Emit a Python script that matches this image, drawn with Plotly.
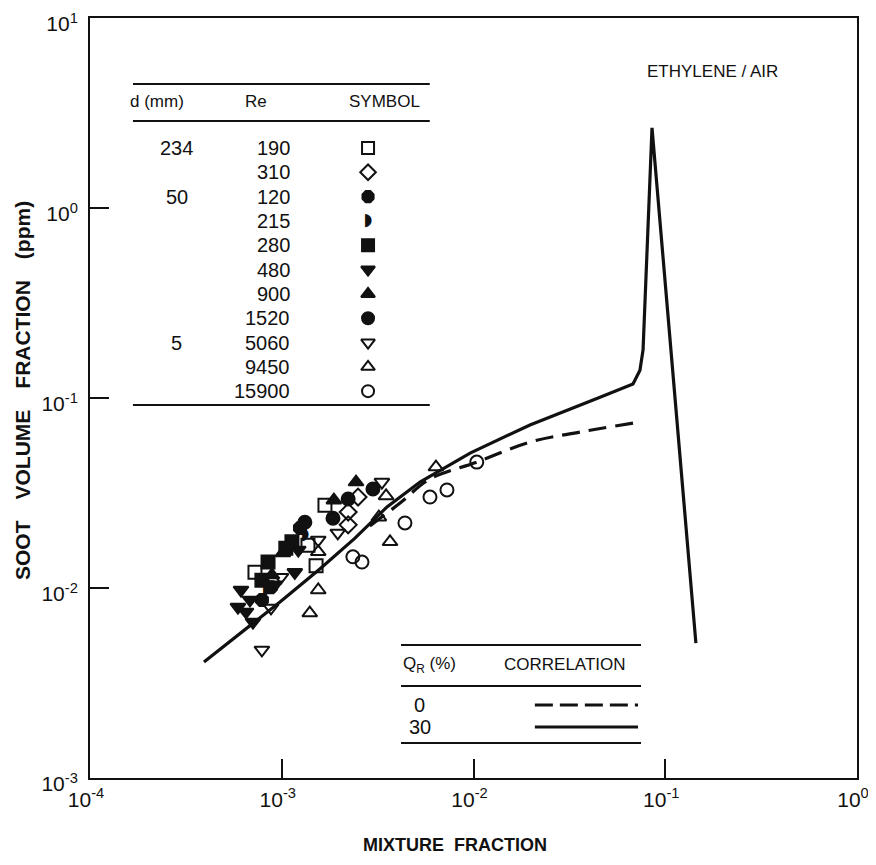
import plotly.graph_objects as go

# ---------------- data ----------------
# correlation curves
solid_x = [3.93e-4, 6.06e-4, 9.79e-4, 1.58e-3, 2.41e-3, 3.54e-3, 5.26e-3, 9.6e-3,
           1.97e-2, 4.57e-2, 6.79e-2, 7.38e-2, 7.66e-2, 8.53e-2, 1.445e-1]
solid_y = [4.08e-3, 5.79e-3, 8.44e-3, 1.26e-2, 1.83e-2, 2.67e-2, 3.61e-2, 5.13e-2,
           7.21e-2, 0.101, 0.1185, 0.140, 0.179, 2.64, 5.13e-3]
dashed_x = [2.88e-3, 4.14e-3, 5.93e-3, 1.04e-2, 1.97e-2, 3.59e-2, 6.79e-2]
dashed_y = [2.12e-2, 2.80e-2, 3.75e-2, 4.6e-2, 5.86e-2, 6.62e-2, 7.38e-2]

# measurements, one pair of lists per Reynolds number
re190_x = [7.25e-4, 1.51e-3, 1.68e-3, 1.37e-3]
re190_y = [1.21e-2, 1.31e-2, 2.73e-2, 1.68e-2]
re310_x = [2.22e-3, 2.22e-3, 2.50e-3]
re310_y = [2.51e-2, 2.15e-2, 3.01e-2]
re120_x = [7.88e-4, 8.79e-4, 1.245e-3]
re120_y = [8.65e-3, 1.01e-2, 2.07e-2]
re215_x = [8.28e-4, 1.32e-3]
re215_y = [9.76e-3, 1.90e-2]
re280_x = [8.48e-4, 1.13e-3, 1.05e-3, 7.88e-4]
re280_y = [1.37e-2, 1.75e-2, 1.62e-2, 1.10e-2]
re480_x = [5.91e-4, 6.13e-4, 6.51e-4, 7.08e-4, 1.17e-3, 1.22e-3, 9.22e-4, 6.83e-4]
re480_y = [7.94e-3, 9.76e-3, 7.48e-3, 6.62e-3, 1.21e-2, 1.585e-2, 1.04e-2, 8.65e-3]
re900_x = [1.015e-3, 1.87e-3, 2.44e-3, 8.89e-4]
re900_y = [1.53e-2, 2.90e-2, 3.61e-2, 1.17e-2]
re1520_x = [1.32e-3, 1.85e-3, 2.22e-3, 2.99e-3]
re1520_y = [2.22e-2, 2.33e-2, 2.94e-2, 3.32e-2]
re5060_x = [7.88e-4, 8.79e-4, 9.91e-4, 1.96e-3, 3.33e-3, 1.55e-3]
re5060_y = [4.72e-3, 7.85e-3, 1.14e-2, 1.95e-2, 3.61e-2, 1.79e-2]
re9450_x = [1.55e-3, 1.40e-3, 3.67e-3, 3.21e-3, 3.50e-3, 6.37e-3, 1.55e-3]
re9450_y = [9.76e-3, 7.38e-3, 1.75e-2, 2.36e-2, 3.05e-2, 4.33e-2, 1.55e-2]
re15900_x = [2.35e-3, 2.62e-3, 4.39e-3, 5.93e-3, 7.27e-3, 1.04e-2]
re15900_y = [1.46e-2, 1.37e-2, 2.20e-2, 3.01e-2, 3.28e-2, 4.6e-2]

# table texts
d_labels = ["234", "", "50", "", "", "", "", "", "5", "", ""]
re_labels = ["190", "310", "120", "215", "280", "480", "900", "1520", "5060", "9450", "15900"]
qr_labels = ["0", "30"]

x_tickvals = [1e-4, 1e-3, 1e-2, 1e-1, 1e0]
x_ticktext = ["10<sup>-4</sup>", "10<sup>-3</sup>", "10<sup>-2</sup>", "10<sup>-1</sup>", "10<sup>0</sup>"]
y_tickvals = [1e-3, 1e-2, 1e-1, 1e0, 1e1]
y_ticktext = ["10<sup>-3</sup>", "10<sup>-2</sup>", "10<sup>-1</sup>", "10<sup>0</sup>", "10<sup>1</sup>"]

# ---------------- styles ----------------
FONT = "Liberation Sans"
BLACK = "#111111"
series = [
    (re190_x, re190_y, "square-open"),
    (re310_x, re310_y, "diamond-open"),
    (re120_x, re120_y, "octagon"),
    (re215_x, re215_y, None),           # half-filled circle, drawn as glyph
    (re280_x, re280_y, "square"),
    (re480_x, re480_y, "triangle-down"),
    (re900_x, re900_y, "triangle-up"),
    (re1520_x, re1520_y, "circle"),
    (re5060_x, re5060_y, "triangle-down-open"),
    (re9450_x, re9450_y, "triangle-up-open"),
    (re15900_x, re15900_y, "circle-open"),
]
HALF = "\u25D7"

fig = go.Figure()

# correlation curves
fig.add_trace(go.Scatter(x=solid_x, y=solid_y, mode="lines",
                         line=dict(color=BLACK, width=3.2), showlegend=False))
fig.add_trace(go.Scatter(x=dashed_x, y=dashed_y, mode="lines", line_shape="spline",
                         line=dict(color=BLACK, width=3.2, dash="18px,9px"), showlegend=False))

# data points
for xs, ys, sym in series:
    if sym is None:
        fig.add_trace(go.Scatter(x=xs, y=ys, mode="text", text=[HALF] * len(xs),
                                 textfont=dict(family="DejaVu Sans", size=17, color=BLACK),
                                 showlegend=False))
    else:
        fig.add_trace(go.Scatter(x=xs, y=ys, mode="markers", showlegend=False,
                                 marker=dict(symbol=sym, size=13, color=BLACK,
                                             line=dict(color=BLACK, width=2))))

# ---------------- tables (overlay axes in [0,1]) ----------------
row_top = 0.829
row_step = 0.0320
rows_y = [row_top - i * row_step for i in range(len(re_labels))]
sym_x = 0.3625
for i, (xs, ys, sym) in enumerate(series):
    if sym is None:
        fig.add_trace(go.Scatter(x=[sym_x], y=[rows_y[i]], mode="text", text=[HALF],
                                 textfont=dict(family="DejaVu Sans", size=17, color=BLACK),
                                 xaxis="x2", yaxis="y2", showlegend=False))
    else:
        fig.add_trace(go.Scatter(x=[sym_x], y=[rows_y[i]], mode="markers",
                                 marker=dict(symbol=sym, size=12, color=BLACK,
                                             line=dict(color=BLACK, width=2)),
                                 xaxis="x2", yaxis="y2", showlegend=False))

# correlation legend lines
corr_rows = [0.096, 0.067]
fig.add_trace(go.Scatter(x=[0.580, 0.7145], y=[corr_rows[0]] * 2, mode="lines",
                         line=dict(color=BLACK, width=3, dash="18px,7px"),
                         xaxis="x2", yaxis="y2", showlegend=False))
fig.add_trace(go.Scatter(x=[0.580, 0.7145], y=[corr_rows[1]] * 2, mode="lines",
                         line=dict(color=BLACK, width=3),
                         xaxis="x2", yaxis="y2", showlegend=False))

annotations = []
tf = dict(family=FONT, size=20, color=BLACK)
hf = dict(family=FONT, size=17, color=BLACK)


def ann(x, y, text, font, xanchor="center", **kw):
    annotations.append(dict(x=x, y=y, xref="paper", yref="paper", text=text,
                            showarrow=False, font=font, xanchor=xanchor,
                            yanchor="middle", **kw))


ann(0.0874, 0.8895, "d (mm)", hf)
ann(0.2164, 0.8895, "Re", hf)
ann(0.3846, 0.8895, "SYMBOL", hf)
for i in range(len(re_labels)):
    if d_labels[i]:
        ann(0.1134, rows_y[i], d_labels[i], tf)
    ann(0.2640, rows_y[i], re_labels[i], tf, xanchor="right")

ann(0.443, 0.1487, "Q<sub>R</sub> (%)", hf)
ann(0.619, 0.1487, "CORRELATION", hf)
for i, lab in enumerate(qr_labels):
    ann(0.430, corr_rows[i], lab, tf)

ann(0.811, 0.929, "ETHYLENE / AIR", hf)

# axis titles
ann(0.476, -0.088, "<b>MIXTURE  FRACTION</b>", dict(family=FONT, size=18, color=BLACK))
ann(-0.0887, 0.5105, "<b>SOOT\u2003VOLUME\u2003FRACTION\u2003(ppm)</b>",
    dict(family=FONT, size=21, color=BLACK), textangle=-90)

shapes = []
for (x0, x1, y) in [(0.056, 0.443, 0.913), (0.056, 0.443, 0.8645), (0.056, 0.443, 0.4908),
                    (0.4055, 0.7184, 0.175), (0.4055, 0.7184, 0.121), (0.4055, 0.7184, 0.046)]:
    shapes.append(dict(type="line", xref="paper", yref="paper", x0=x0, x1=x1, y0=y, y1=y,
                       line=dict(color=BLACK, width=2)))

# page body adds an 8 px offset, so the figure is 8 px smaller and margins shifted
fig.update_layout(
    width=868, height=857,
    margin=dict(l=82, r=19, t=10, b=87),
    paper_bgcolor="white", plot_bgcolor="white",
    showlegend=False,
    annotations=annotations,
    shapes=shapes,
    xaxis=dict(type="log", range=[-4, 0], tickvals=x_tickvals, ticktext=x_ticktext,
               ticks="inside", ticklen=19, tickwidth=2, tickcolor=BLACK,
               showline=True, linecolor=BLACK, linewidth=2, mirror=True,
               showgrid=False, zeroline=False, ticklabelstandoff=2, automargin=False,
               ticklabeloverflow="allow", ticklabelshift=-4,
               tickfont=dict(family=FONT, size=21, color=BLACK)),
    yaxis=dict(type="log", range=[-3, 1], tickvals=y_tickvals, ticktext=y_ticktext,
               ticks="inside", ticklen=19, tickwidth=2, tickcolor=BLACK,
               showline=True, linecolor=BLACK, linewidth=2, mirror=True,
               showgrid=False, zeroline=False, ticklabelstandoff=6, automargin=False,
               ticklabeloverflow="allow", ticklabelshift=6,
               tickfont=dict(family=FONT, size=21, color=BLACK)),
    xaxis2=dict(range=[0, 1], overlaying="x", visible=False, fixedrange=True),
    yaxis2=dict(range=[0, 1], overlaying="y", visible=False, fixedrange=True),
)

fig.write_html("out.html")
